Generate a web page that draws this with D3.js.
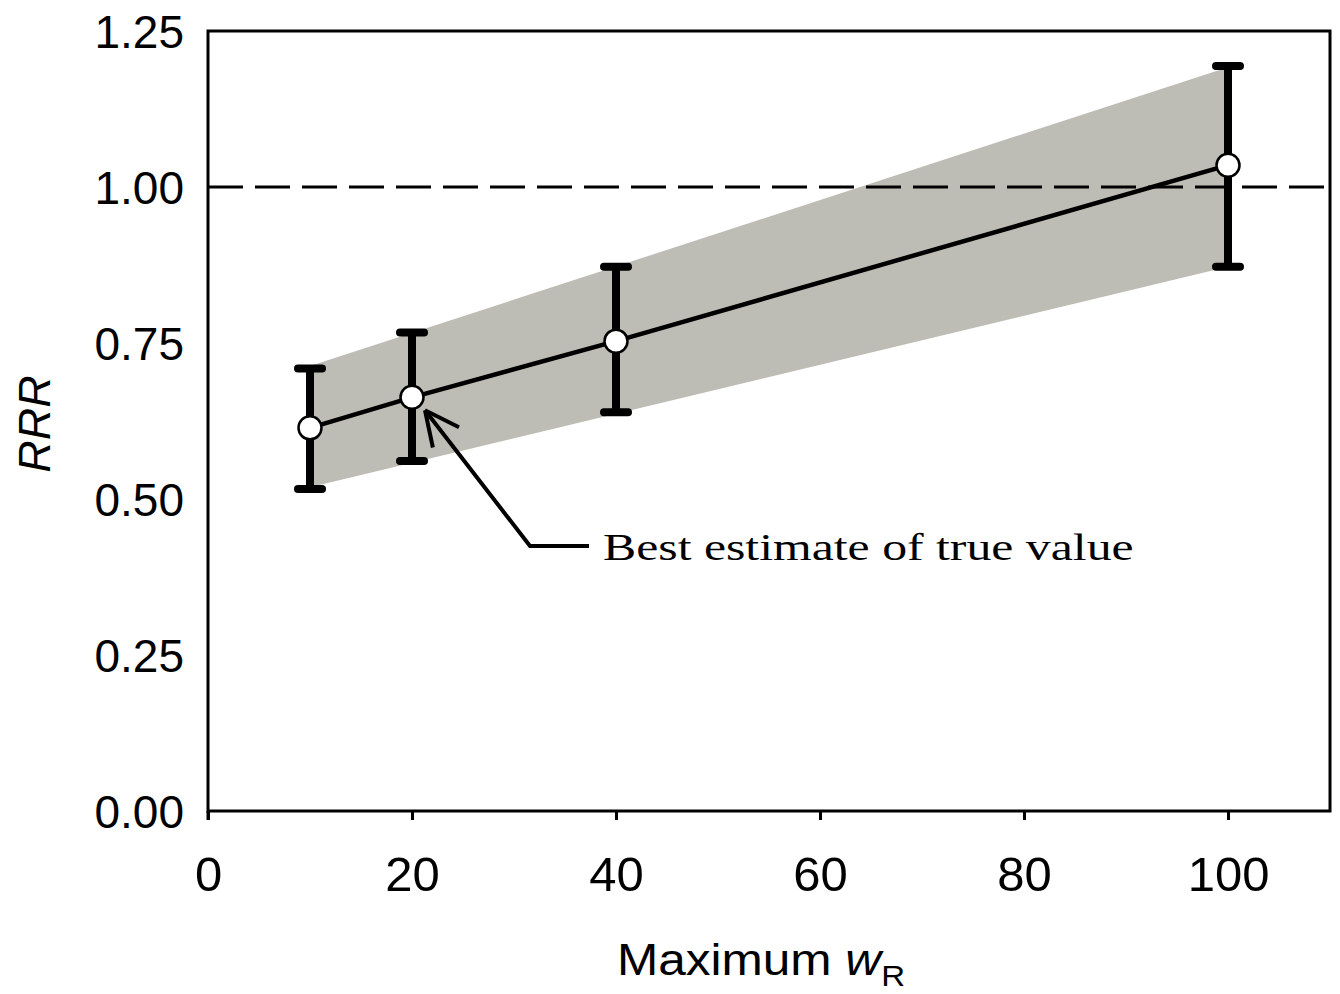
<!DOCTYPE html>
<html lang="en">
<head>
<meta charset="utf-8">
<title>RRR vs Maximum wR</title>
<script src="https://d3js.org/d3.v7.min.js"></script>
<style>
  body { margin: 0; background: #fff; }
  svg { display: block; }
  .tick text { font-family: "Liberation Sans", Arial, sans-serif; }
</style>
</head>
<body>
<div id="chart"></div>
<script>
// data
var maxW = [10, 20, 40, 100];
var rrr = [0.614, 0.663, 0.753, 1.035];
var ciLow = [0.516, 0.561, 0.639, 0.872];
var ciHigh = [0.709, 0.767, 0.872, 1.194];
// confidence band edges (straight lines from first to last point)
var bandX = [10, 100];
var bandLow = [0.519, 0.872];
var bandHigh = [0.713, 1.192];
var xTicks = [0, 20, 40, 60, 80, 100];
var yTicks = [0, 0.25, 0.5, 0.75, 1.0, 1.25];
var refLine = 1.0;
var note = "Best estimate of true value";

var width = 1340, height = 994;
var margin = {top: 31, right: 10, bottom: 183, left: 208};

var svg = d3.select("#chart").append("svg")
    .attr("width", width)
    .attr("height", height);

var x = d3.scaleLinear().domain([0, 110]).range([margin.left, width - margin.right]);
var y = d3.scaleLinear().domain([0, 1.25]).range([height - margin.bottom, margin.top]);

// shaded band
var band = bandX.map(function(d, i) { return {x: d, lo: bandLow[i], hi: bandHigh[i]}; });
svg.append("path")
    .datum(band)
    .attr("fill", "#bebdb5")
    .attr("d", d3.area()
        .x(function(d) { return x(d.x); })
        .y0(function(d) { return y(d.lo); })
        .y1(function(d) { return y(d.hi); }));

// reference line at 1.0
svg.append("line")
    .attr("x1", x(0)).attr("x2", x(110))
    .attr("y1", y(refLine)).attr("y2", y(refLine))
    .attr("stroke", "#000")
    .attr("stroke-width", 3)
    .attr("stroke-dasharray", "35,12");

// axes
var xAxis = d3.axisBottom(x).tickValues(xTicks).tickSize(9).tickPadding(36);
var yAxis = d3.axisLeft(y).tickValues(yTicks).tickSize(0).tickPadding(24)
    .tickFormat(d3.format(".2f"));

var gx = svg.append("g")
    .attr("transform", "translate(0," + y(0) + ")")
    .call(xAxis);
gx.select(".domain").remove();
gx.selectAll("line").attr("stroke-width", 3);
gx.selectAll("text").attr("font-size", 49).attr("fill", "#000");

var gy = svg.append("g")
    .attr("transform", "translate(" + x(0) + ",0)")
    .call(yAxis);
gy.select(".domain").remove();
gy.selectAll("text").attr("font-size", 46).attr("fill", "#000").attr("dy", "0.36em");

// frame
svg.append("rect")
    .attr("x", x(0)).attr("y", y(1.25))
    .attr("width", x(110) - x(0))
    .attr("height", y(0) - y(1.25))
    .attr("fill", "none")
    .attr("stroke", "#000")
    .attr("stroke-width", 3);
svg.append("line")
    .attr("x1", x(0)).attr("x2", x(0))
    .attr("y1", y(0)).attr("y2", y(0) + 9)
    .attr("stroke", "#000").attr("stroke-width", 3);

// connecting line
var pts = maxW.map(function(d, i) { return {x: d, v: rrr[i], lo: ciLow[i], hi: ciHigh[i]}; });
svg.append("path")
    .datum(pts)
    .attr("fill", "none")
    .attr("stroke", "#000")
    .attr("stroke-width", 4.5)
    .attr("d", d3.line()
        .x(function(d) { return x(d.x); })
        .y(function(d) { return y(d.v); }));

// error bars
var eb = svg.append("g").selectAll("g").data(pts).enter().append("g");
eb.append("line")
    .attr("x1", function(d) { return x(d.x); })
    .attr("x2", function(d) { return x(d.x); })
    .attr("y1", function(d) { return y(d.lo); })
    .attr("y2", function(d) { return y(d.hi); })
    .attr("stroke", "#000").attr("stroke-width", 8);
["lo", "hi"].forEach(function(k) {
  eb.append("line")
      .attr("x1", function(d) { return x(d.x) - 12; })
      .attr("x2", function(d) { return x(d.x) + 12; })
      .attr("y1", function(d) { return y(d[k]); })
      .attr("y2", function(d) { return y(d[k]); })
      .attr("stroke", "#000").attr("stroke-width", 8)
      .attr("stroke-linecap", "round");
});

// markers
svg.append("g").selectAll("circle").data(pts).enter().append("circle")
    .attr("cx", function(d) { return x(d.x); })
    .attr("cy", function(d) { return y(d.v); })
    .attr("r", 11.5)
    .attr("fill", "#fff")
    .attr("stroke", "#000")
    .attr("stroke-width", 2.5);

// annotation arrow
var tip = [x(maxW[1]) + 13, y(rrr[1]) + 13];
var elbow = [530, 546];
svg.append("polyline")
    .attr("points", [[589, 546], elbow, tip].join(" "))
    .attr("fill", "none").attr("stroke", "#000").attr("stroke-width", 4);
var ang = Math.atan2(elbow[1] - tip[1], elbow[0] - tip[0]);
[0.45, -0.45].forEach(function(da) {
  svg.append("line")
      .attr("x1", tip[0]).attr("y1", tip[1])
      .attr("x2", tip[0] + 38 * Math.cos(ang + da))
      .attr("y2", tip[1] + 38 * Math.sin(ang + da))
      .attr("stroke", "#000").attr("stroke-width", 4);
});
// the original lettering is wider than Times, so stretch it sideways
svg.append("text")
    .attr("transform", "translate(603,560) scale(1.31,1)")
    .attr("font-family", "'Liberation Serif', 'Times New Roman', serif")
    .attr("font-size", 38)
    .text(note);

// axis titles
var xt = svg.append("text")
    .attr("x", 617).attr("y", 975)
    .attr("font-family", "'Liberation Sans', Arial, sans-serif")
    .attr("font-size", 45)
    .attr("textLength", 288)
    .attr("lengthAdjust", "spacingAndGlyphs");
xt.append("tspan").text("Maximum ");
xt.append("tspan").attr("font-style", "italic").text("w");
xt.append("tspan").attr("font-size", 30).attr("dy", 11).text("R");

svg.append("text")
    .attr("transform", "translate(50,424) rotate(-90)")
    .attr("text-anchor", "middle")
    .attr("font-family", "'Liberation Sans', Arial, sans-serif")
    .attr("font-size", 45)
    .attr("font-style", "italic")
    .text("RRR");
</script>
</body>
</html>
